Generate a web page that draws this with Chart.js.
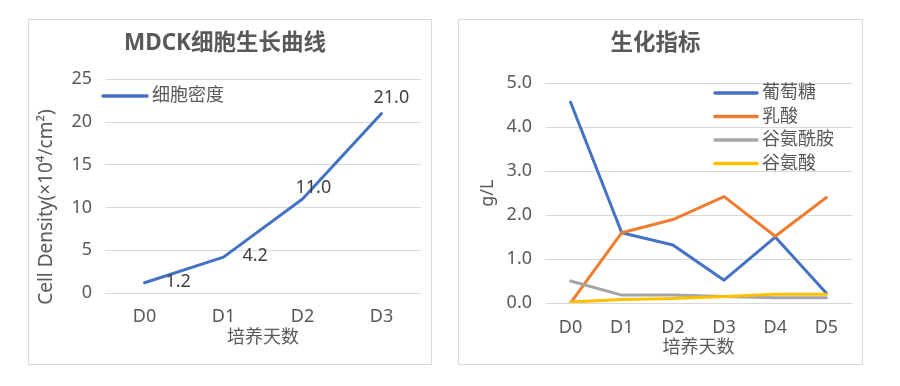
<!DOCTYPE html>
<html>
<head>
<meta charset="utf-8">
<script src="https://cdn.jsdelivr.net/npm/chart.js@4.4.1/dist/chart.umd.min.js"></script>
<style>
  html, body { margin: 0; padding: 0; background: #fff; }
  .box { position: absolute; top: 19px; height: 344px; border: 1px solid #d9d9d9; }
  #leftBox { left: 28px; width: 402px; }
  #rightBox { left: 458px; width: 403px; }
  canvas { display: block; }
</style>
</head>
<body>
<div class="box" id="leftBox"><canvas id="growthChart" width="402" height="344"></canvas></div>
<div class="box" id="rightBox"><canvas id="bioChart" width="403" height="344"></canvas></div>
<script>
// growth curve
const growthDays = ['D0', 'D1', 'D2', 'D3'];
const cellDensity = [1.2, 4.2, 11.0, 21.0];

// biochemical indicators
const bioDays = ['D0', 'D1', 'D2', 'D3', 'D4', 'D5'];
const glucose = [4.57, 1.6, 1.32, 0.52, 1.5, 0.22];
const lactate = [0.0, 1.6, 1.9, 2.42, 1.52, 2.4];
const glutamine = [0.5, 0.18, 0.18, 0.15, 0.12, 0.12];
const glutamate = [0.02, 0.08, 0.1, 0.15, 0.2, 0.2];

const FONT_FAMILY = "'Noto Sans', 'Noto Sans CJK SC', sans-serif";
const TEXT = '#595959';
const LABEL = '#404040';
const GRID = '#d9d9d9';
const BLUE = '#4472c4';
const ORANGE = '#ed7d31';
const GRAY = '#a5a5a5';
const YELLOW = '#ffc000';

Chart.defaults.font.family = FONT_FAMILY;
Chart.defaults.font.size = 18;
Chart.defaults.color = TEXT;

// legend drawn inside the plot area, like the Excel original
const insideLegend = {
    id: 'insideLegend',
    afterDraw(chart, args, opts) {
        const ctx = chart.ctx;
        ctx.save();
        ctx.font = '18px ' + FONT_FAMILY;
        ctx.textBaseline = 'middle';
        ctx.textAlign = 'left';
        chart.data.datasets.forEach(function (ds, i) {
            const y = opts.y + i * opts.rowHeight;
            ctx.strokeStyle = ds.borderColor;
            ctx.lineWidth = 3.5;
            ctx.lineCap = 'round';
            ctx.beginPath();
            ctx.moveTo(opts.x, y);
            ctx.lineTo(opts.x + opts.lineLength, y);
            ctx.stroke();
            ctx.fillStyle = TEXT;
            ctx.fillText(ds.label, opts.x + opts.lineLength + 5, y);
        });
        ctx.restore();
    }
};

// value labels next to the points
const pointLabels = {
    id: 'pointLabels',
    afterDatasetsDraw(chart, args, opts) {
        if (!opts.offsets) return;
        const ctx = chart.ctx;
        const meta = chart.getDatasetMeta(0);
        const values = chart.data.datasets[0].data;
        ctx.save();
        ctx.font = '18px ' + FONT_FAMILY;
        ctx.fillStyle = LABEL;
        ctx.textBaseline = 'middle';
        ctx.textAlign = 'left';
        meta.data.forEach(function (pt, i) {
            const off = opts.offsets[i];
            ctx.fillText(values[i].toFixed(1), pt.x + off[0], pt.y + off[1]);
        });
        ctx.restore();
    }
};

// rotated axis title placed freely (the Excel one is not centred on the plot)
const sideTitle = {
    id: 'sideTitle',
    afterDraw(chart, args, opts) {
        if (!opts.text) return;
        const ctx = chart.ctx;
        ctx.save();
        ctx.font = opts.size + 'px ' + FONT_FAMILY;
        ctx.fillStyle = TEXT;
        ctx.textAlign = 'center';
        ctx.textBaseline = 'middle';
        ctx.translate(opts.x, opts.y);
        ctx.rotate(-Math.PI / 2);
        ctx.fillText(opts.text, 0, 0);
        ctx.restore();
    }
};

function lineSet(label, data, color, order) {
    return {
        label: label,
        data: data,
        borderColor: color,
        backgroundColor: color,
        borderWidth: 3,
        pointRadius: 0,
        tension: 0,
        borderCapStyle: 'round',
        borderJoinStyle: 'round',
        order: order
    };
}

new Chart(document.getElementById('growthChart'), {
    type: 'line',
    data: {
        labels: growthDays,
        datasets: [lineSet('细胞密度', cellDensity, BLUE, 0)]
    },
    options: {
        responsive: false,
        animation: false,
        layout: { padding: { right: 10 } },
        scales: {
            x: {
                offset: true,
                grid: { display: false },
                border: { display: false },
                ticks: { padding: 5 },
                title: { display: true, text: '培养天数', padding: { top: 0, bottom: 15 } },
                afterFit: function (s) { s.height = 71; }
            },
            y: {
                min: 0,
                max: 25,
                ticks: { stepSize: 5, padding: 13 },
                grid: { color: GRID, drawTicks: false },
                border: { display: false },
                afterFit: function (s) { s.width = 76; }
            }
        },
        plugins: {
            legend: { display: false },
            tooltip: { enabled: false },
            title: {
                display: true,
                text: 'MDCK细胞生长曲线',
                color: TEXT,
                font: { size: 22.5, weight: 'bold' },
                padding: { top: 10, bottom: 22.3 }
            },
            insideLegend: { x: 74, y: 76, rowHeight: 24, lineLength: 44 },
            pointLabels: { offsets: [[21, -1], [19, -1], [-7, -11], [-8, -16]] },
            sideTitle: { text: 'Cell Density(×10⁴/cm²)', x: 18, y: 187, size: 19 }
        }
    },
    plugins: [insideLegend, pointLabels, sideTitle]
});

new Chart(document.getElementById('bioChart'), {
    type: 'line',
    data: {
        labels: bioDays,
        datasets: [
            lineSet('葡萄糖', glucose, BLUE, 3),
            lineSet('乳酸', lactate, ORANGE, 2),
            lineSet('谷氨酰胺', glutamine, GRAY, 1),
            lineSet('谷氨酸', glutamate, YELLOW, 0)
        ]
    },
    options: {
        responsive: false,
        animation: false,
        layout: { padding: { right: 10 } },
        scales: {
            x: {
                offset: true,
                grid: { display: false },
                border: { display: false },
                ticks: { padding: 6 },
                title: { display: true, text: '培养天数', padding: { top: 0, bottom: 5 } },
                afterFit: function (s) { s.height = 61; }
            },
            y: {
                min: 0,
                max: 5,
                ticks: {
                    stepSize: 1,
                    padding: 13,
                    callback: function (v) { return Number(v).toFixed(1); }
                },
                grid: { color: GRID, drawTicks: false },
                border: { display: false },
                title: { display: true, text: 'g/L', padding: { top: 18, bottom: 0 } },
                afterFit: function (s) { s.width = 86; }
            }
        },
        plugins: {
            legend: { display: false },
            tooltip: { enabled: false },
            title: {
                display: true,
                text: '生化指标',
                color: TEXT,
                font: { size: 22.5, weight: 'bold' },
                padding: { top: 10, bottom: 26.3 }
            },
            insideLegend: { x: 256, y: 73, rowHeight: 23.5, lineLength: 42 }
        }
    },
    plugins: [insideLegend]
});
</script>
</body>
</html>
